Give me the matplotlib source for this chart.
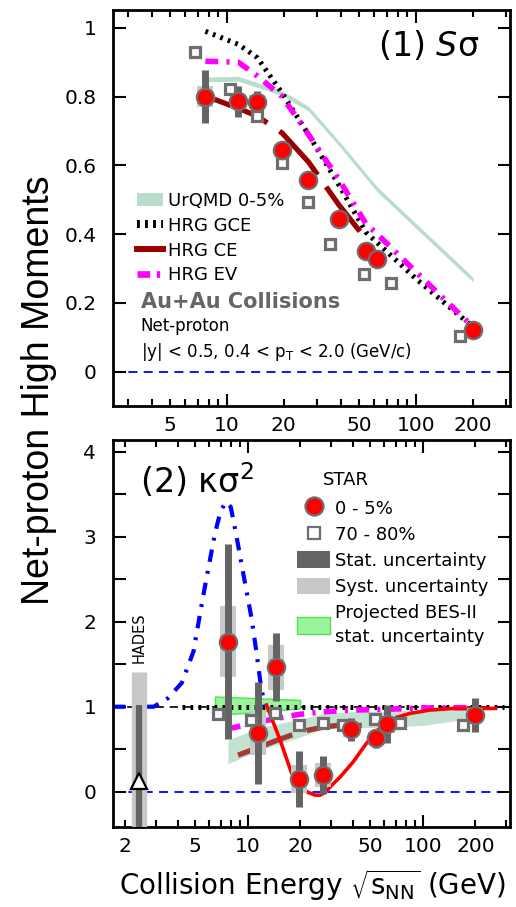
import numpy as np
import matplotlib
matplotlib.use("Agg")
import matplotlib.pyplot as plt
from matplotlib.lines import Line2D
from matplotlib.patches import Patch
from matplotlib.ticker import FixedLocator, FuncFormatter

# ---------------- data ----------------
energy_central = [7.7, 11.5, 14.5, 19.6, 27, 39, 54.4, 62.4, 200]
energy_periph = [6.8, 10.4, 14.4, 19.6, 27, 35, 53, 74, 170]

ssigma_central = [0.800, 0.787, 0.785, 0.644, 0.557, 0.445, 0.350, 0.328, 0.122]
ssigma_central_stat = [0.077, 0.045, 0.03, 0.015, 0.012, 0.01, 0.01, 0.01, 0.008]
ssigma_central_syst = [0.03, 0.02, 0.02, 0.015, 0.012, 0.01, 0.01, 0.01, 0.008]
ssigma_periph = [0.930, 0.821, 0.745, 0.607, 0.493, 0.370, 0.284, 0.258, 0.103]

kappa_central = [1.765, 0.687, 1.463, 0.146, 0.196, 0.734, 0.628, 0.796, 0.902]
kappa_central_stat = [1.15, 0.60, 0.40, 0.33, 0.22, 0.135, 0.11, 0.22, 0.20]
kappa_central_syst = [0.42, 0.26, 0.265, 0.165, 0.14, 0.09, 0.08, 0.10, 0.08]
kappa_periph = [0.914, 0.843, 0.922, 0.785, 0.805, 0.785, 0.85, 0.805, 0.785]

hades_energy = [2.4]
hades_kappa = [0.13]
hades_stat = [0.89]
hades_syst = [1.28]

# models, panel 1 (S sigma)
urqmd1_energy = [7.7, 11.5, 19.6, 27, 39, 62.4, 200]
urqmd1_value = [0.85, 0.852, 0.81, 0.765, 0.665, 0.53, 0.268]
gce1_energy = [7.7, 11.5, 14.5, 19.6, 27, 39, 54.4, 62.4, 100, 200]
gce1_value = [0.99, 0.952, 0.913, 0.81, 0.69, 0.544, 0.405, 0.375, 0.27, 0.13]
ce1_energy = [8.6, 11.5, 14.5, 19.6, 27, 39, 50.5]
ce1_value = [0.792, 0.766, 0.743, 0.694, 0.61, 0.486, 0.408]
ev1_energy = [7.7, 11.5, 14.5, 19.6, 27, 39, 54.4, 62.4, 100, 200]
ev1_value = [0.903, 0.90, 0.86, 0.80, 0.69, 0.56, 0.43, 0.40, 0.29, 0.13]

# models, panel 2 (kappa sigma^2)
urqmd2_energy = [7.7, 11.5, 19.6, 27, 39, 62.4, 100, 200]
urqmd2_low = [0.33, 0.48, 0.64, 0.74, 0.75, 0.76, 0.78, 0.87]
urqmd2_high = [0.61, 0.75, 0.85, 0.92, 0.94, 0.95, 0.96, 0.98]
gce2_energy = [4.2, 290]
gce2_value = [1.0, 1.0]
ce2_energy = [8.8, 11.5, 14.5, 17.8, 21.7, 27, 32.4, 39, 44.8]
ce2_value = [0.43, 0.52, 0.60, 0.667, 0.72, 0.76, 0.78, 0.78, 0.78]
ev2_energy = [7.7, 9.0, 11.5, 14.5, 19.6, 27, 39, 62.4, 100, 200]
ev2_value = [0.74, 0.77, 0.82, 0.86, 0.91, 0.94, 0.96, 0.97, 0.985, 0.99]
cp_energy = [1.7, 2.9, 3.5, 4.2, 4.9, 5.4, 5.8, 6.5, 7.0, 7.5, 8.0, 8.6, 9.7, 10.5, 11.2, 11.8, 12.5]
cp_value = [1.0, 1.0, 1.10, 1.28, 1.65, 2.15, 2.5, 3.04, 3.3, 3.41, 3.35, 3.02, 2.43, 2.05, 1.65, 1.3, 1.0]
red_energy = [12.8, 15.3, 17.8, 21.7, 24.2, 26, 28, 30, 33.6, 40, 47.7, 55, 65, 84, 109, 150, 260]
red_value = [1.02, 0.61, 0.22, 0.0, -0.04, -0.04, 0.0, 0.07, 0.17, 0.35, 0.57, 0.72, 0.85, 0.92, 0.96, 0.98, 0.98]
bes2_energy = [6.5, 19.9]
bes2_low = [0.90, 0.98]
bes2_high = [1.12, 1.08]

x_label_values = [2, 5, 10, 20, 50, 100, 200]

# ---------------- style ----------------
RED = "#ff0000"
EDGE = "#6e6e6e"
STAT = "#646464"
SYST = "#c8c8c8"
URQMD = "#b9ddca"
CE = "#990000"
EV = "#ff00ff"

plt.rcParams["font.family"] = ["DejaVu Sans"]
plt.rcParams["mathtext.fontset"] = "dejavusans"

fig = plt.figure(figsize=(5.16, 9.07), dpi=100)
W, H = 516.0, 907.0
ax1 = fig.add_axes([113 / W, 1 - 406 / H, 397 / W, 396 / H])
ax2 = fig.add_axes([113 / W, 1 - 827 / H, 397 / W, 387 / H])


def style_axis(ax, xlim, ylim):
    ax.set_xscale("log")
    ax.set_xlim(*xlim)
    ax.set_ylim(*ylim)
    ax.xaxis.set_major_locator(FixedLocator([1, 10, 100, 1000]))
    ax.xaxis.set_minor_locator(FixedLocator(
        [v * d for d in (1, 10, 100) for v in range(2, 10)]))

    def fmt(v, pos):
        for lv in x_label_values:
            if abs(v - lv) < 1e-6 * lv:
                return "%g" % lv
        return ""
    ax.xaxis.set_major_formatter(FuncFormatter(fmt))
    ax.xaxis.set_minor_formatter(FuncFormatter(fmt))
    ax.tick_params(which="both", direction="in", top=True, right=True,
                   width=1.5, labelsize=14.5)
    ax.tick_params(axis="x", which="major", length=9, pad=7)
    ax.tick_params(axis="x", which="minor", length=5, pad=7)
    ax.tick_params(axis="y", which="both", length=9, pad=12)
    for s in ax.spines.values():
        s.set_linewidth(2.0)


style_axis(ax1, (2.5, 314), (-0.1, 1.052))
ax1.set_yticks([0, 0.2, 0.4, 0.6, 0.8, 1.0])
ax1.set_yticklabels(["0", "0.2", "0.4", "0.6", "0.8", "1"])

style_axis(ax2, (1.7, 315), (-0.415, 4.138))
ax2.set_yticks([0, 1, 2, 3, 4])
ax2.set_yticks([0.5, 1.5, 2.5, 3.5], minor=True)
ax2.tick_params(axis="y", which="minor", length=9)

# ---------------- panel 1 ----------------
ax1.axhline(0, color="#0000ff", lw=1.3, ls=(0, (5, 3.5)), zorder=1)
u1 = np.array(urqmd1_value)
ax1.fill_between(urqmd1_energy, u1 - 0.007, u1 + 0.007, color=URQMD, lw=0, zorder=1)
ax1.plot(gce1_energy, gce1_value, color="black", lw=3.6,
         dashes=(0.55, 1.05), dash_capstyle="butt", zorder=2)
ax1.plot(ce1_energy, ce1_value, color=CE, lw=3.8,
         dashes=(11, 2.8), dash_capstyle="butt", zorder=2)
ax1.plot(ev1_energy, ev1_value, color=EV, lw=4,
         dashes=(2.3, 1.5, 0.55, 1.5), dash_capstyle="butt", zorder=2)

c1 = np.array(ssigma_central)
ax1.vlines(energy_central, c1 - np.array(ssigma_central_syst),
           c1 + np.array(ssigma_central_syst), color=SYST, lw=11.5,
           capstyle="butt", zorder=3)
ax1.vlines(energy_central, c1 - np.array(ssigma_central_stat),
           c1 + np.array(ssigma_central_stat), color=STAT, lw=5,
           capstyle="butt", zorder=4)
ax1.plot(energy_periph, ssigma_periph, ls="none", marker="s", ms=7.5,
         mfc="#fafafa", mec=EDGE, mew=2.3, zorder=5)
ax1.plot(energy_central, ssigma_central, ls="none", marker="o", ms=12.5,
         mfc=RED, mec=EDGE, mew=1.6, zorder=6)

ax1.text(0.668, 0.909, "(1) $\\mathit{S}$σ", transform=ax1.transAxes,
         fontsize=24, ha="left", va="center")

h1 = [Patch(facecolor=URQMD, edgecolor="none"),
      Line2D([], [], color="black", lw=5.8, dashes=(0.35, 0.65), dash_capstyle="butt"),
      Line2D([], [], color=CE, lw=4.3),
      Line2D([], [], color=EV, lw=4.8, dashes=(1.9, 1.0, 0.5, 1.0), dash_capstyle="butt")]
leg1 = ax1.legend(h1, ["UrQMD 0-5%", "HRG GCE", "HRG CE", "HRG EV"],
                  loc="upper left", bbox_to_anchor=(0.06, 0.540),
                  frameon=False, fontsize=13, handlelength=1.45,
                  handleheight=0.75, handletextpad=0.3, labelspacing=0.37,
                  borderaxespad=0, borderpad=0)
ax1.text(0.070, 0.263, "Au+Au Collisions", transform=ax1.transAxes,
         fontsize=15, fontweight="bold", color="#666666", ha="left", va="center")
ax1.text(0.070, 0.203, "Net-proton", transform=ax1.transAxes,
         fontsize=12, ha="left", va="center")
ax1.text(0.070, 0.124, "|y| < 0.5, 0.4 < p$_\\mathrm{T}$ < 2.0 (GeV/c)",
         transform=ax1.transAxes, fontsize=12, ha="left", va="baseline")

# ---------------- panel 2 ----------------
ax2.axhline(0, color="#0000ff", lw=1.3, ls=(0, (5, 3.5)), zorder=1)
ax2.axhline(1, color="black", lw=1.2, ls=(0, (5, 3.5)), zorder=1)
ax2.fill_between(urqmd2_energy, urqmd2_low, urqmd2_high, color=URQMD,
                 alpha=0.85, lw=0, zorder=1)
ax2.fill_between(bes2_energy, bes2_low, bes2_high, facecolor="#99f599",
                 edgecolor="#55dd55", lw=1.0, zorder=1.5)
ax2.plot(gce2_energy, gce2_value, color="black", lw=3.6,
         dashes=(0.55, 1.05), dash_capstyle="butt", zorder=2)
ax2.plot(ce2_energy, ce2_value, color=CE, lw=3.8, alpha=0.75,
         dashes=(11, 2.8), dash_capstyle="butt", zorder=2)
ax2.plot(ev2_energy, ev2_value, color=EV, lw=4,
         dashes=(2.3, 1.5, 0.55, 1.5), dash_capstyle="butt", zorder=2)
ax2.plot(cp_energy, cp_value, color="#0000ff", lw=3.0,
         dashes=(3.0, 2.2, 0.7, 2.2), dash_capstyle="butt", zorder=2)
ax2.plot(red_energy, red_value, color=RED, lw=2.6, zorder=2.5)

c2 = np.array(kappa_central)
ax2.vlines(energy_central, c2 - np.array(kappa_central_syst),
           c2 + np.array(kappa_central_syst), color=SYST, lw=11.5,
           capstyle="butt", zorder=3)
ax2.vlines(energy_central, c2 - np.array(kappa_central_stat),
           c2 + np.array(kappa_central_stat), color=STAT, lw=5,
           capstyle="butt", zorder=4)
hk = np.array(hades_kappa)
ax2.vlines(hades_energy, hk - np.array(hades_syst), hk + np.array(hades_syst),
           color=SYST, lw=11, capstyle="butt", zorder=3)
ax2.vlines(hades_energy, hk - np.array(hades_stat), hk + np.array(hades_stat),
           color=STAT, lw=4.5, capstyle="butt", zorder=4)
ax2.plot(hades_energy, hades_kappa, ls="none", marker="^", ms=12,
         mfc="white", mec="black", mew=1.6, zorder=6)
ax2.text(hades_energy[0], 1.81, "HADES", rotation=90, fontsize=10.5,
         ha="center", va="center")

ax2.plot(energy_periph, kappa_periph, ls="none", marker="s", ms=7.5,
         mfc="#fafafa", mec=EDGE, mew=2.3, zorder=5)
ax2.plot(energy_central, kappa_central, ls="none", marker="o", ms=12.5,
         mfc=RED, mec=EDGE, mew=1.6, zorder=6)

ax2.text(0.068, 0.863, "(2) κσ$^2$", transform=ax2.transAxes,
         fontsize=24, ha="left", va="baseline")
ax2.text(0.528, 0.897, "STAR", transform=ax2.transAxes,
         fontsize=13, ha="left", va="center")

h2 = [Line2D([], [], ls="none", marker="o", ms=13, mfc=RED, mec=EDGE, mew=1.6),
      Line2D([], [], ls="none", marker="s", ms=9, mfc="white", mec=EDGE, mew=1.6),
      Patch(facecolor=STAT, edgecolor="none"),
      Patch(facecolor=SYST, edgecolor="none"),
      Patch(facecolor="#99f599", edgecolor="#55dd55")]
leg2 = ax2.legend(h2, ["0 - 5%", "70 - 80%", "Stat. uncertainty",
                       "Syst. uncertainty", "Projected BES-II\nstat. uncertainty"],
                  loc="upper left", bbox_to_anchor=(0.463, 0.847),
                  frameon=False, fontsize=13, handlelength=1.85,
                  handleheight=1.05, handletextpad=0.28, labelspacing=0.42,
                  borderaxespad=0, borderpad=0)
leg2.get_texts()[4].set_linespacing(1.45)

fig.text(0.075, 0.570, "Net-proton High Moments", rotation=90,
         fontsize=27, family=["Liberation Sans"], ha="center", va="center")
fig.text(0.605, 0.024, "Collision Energy $\\sqrt{\\mathrm{s}_{\\mathrm{NN}}}$ (GeV)",
         fontsize=20, ha="center", va="center")

fig.savefig("out.png", dpi=100)
